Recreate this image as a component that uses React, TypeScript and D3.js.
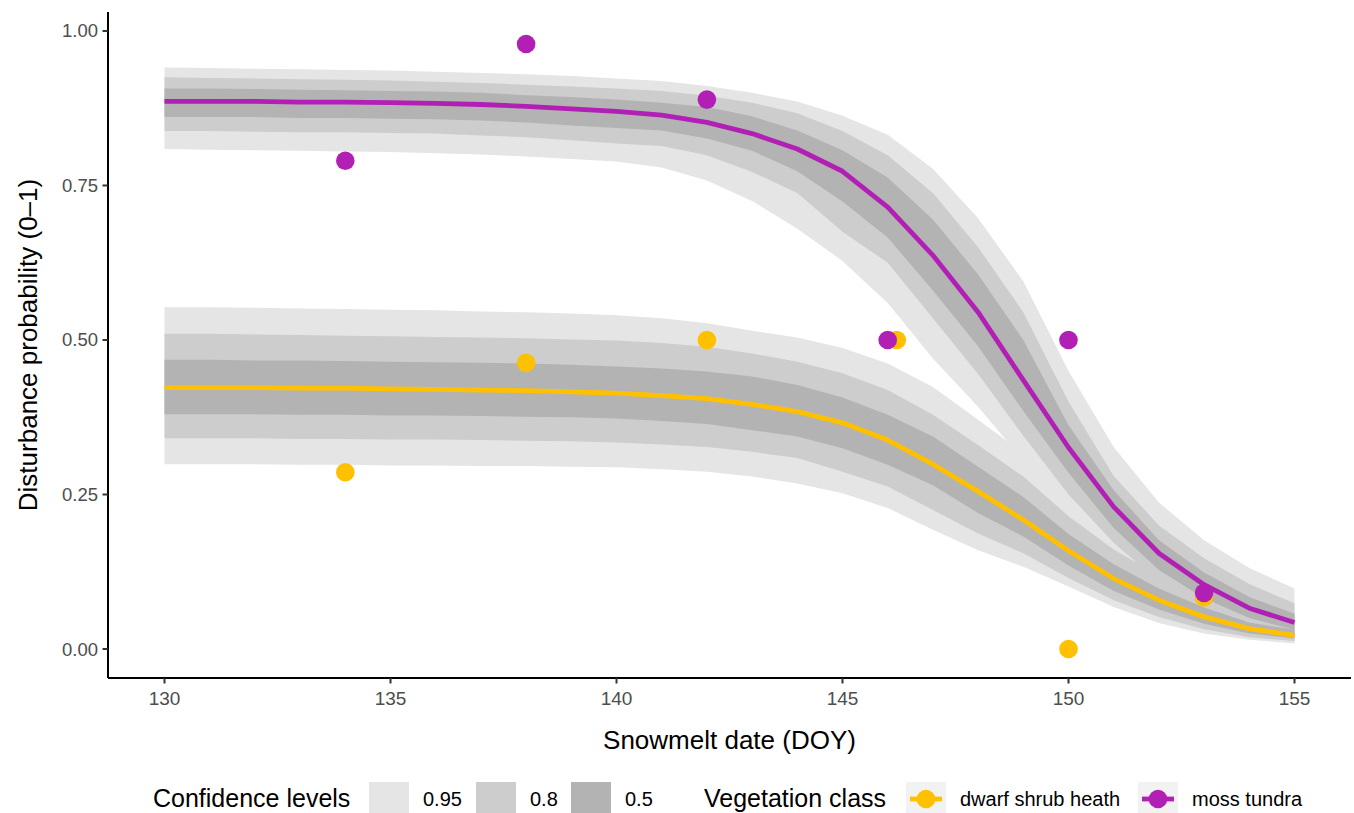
import React from "react";
import * as d3 from "d3";

// ---- data ----
const doy = [130,131,132,133,134,135,136,137,138,139,140,141,142,143,144,145,146,147,148,149,150,151,152,153,154,155];

const mossMean = [.886,.886,.886,.885,.885,.884,.883,.881,.878,.874,.870,.864,.852,.834,.809,.773,.715,.637,.545,.435,.326,.230,.155,.104,.066,.043];
const mossU95 = [.941,.940,.939,.938,.937,.936,.934,.932,.930,.927,.923,.919,.911,.900,.886,.863,.832,.777,.697,.595,.450,.327,.237,.176,.131,.098];
const mossU80 = [.925,.924,.923,.922,.921,.920,.918,.916,.913,.910,.907,.903,.895,.884,.867,.838,.799,.738,.650,.545,.400,.280,.200,.147,.105,.074];
const mossU50 = [.907,.907,.906,.905,.904,.903,.902,.900,.896,.893,.889,.884,.877,.862,.839,.807,.763,.695,.606,.500,.362,.257,.176,.124,.084,.057];
const mossL50 = [.861,.861,.861,.859,.859,.858,.857,.855,.852,.847,.843,.839,.826,.806,.773,.724,.666,.580,.490,.385,.285,.196,.128,.082,.050,.031];
const mossL80 = [.838,.838,.837,.836,.836,.835,.834,.831,.828,.823,.818,.814,.799,.772,.738,.675,.625,.535,.445,.345,.250,.172,.109,.068,.040,.024];
const mossL95 = [.809,.808,.807,.806,.805,.804,.802,.800,.797,.793,.789,.779,.758,.725,.680,.628,.560,.470,.392,.305,.222,.147,.091,.0545,.031,.018];

const shrubMean = [.423,.423,.423,.422,.422,.421,.420,.419,.418,.416,.414,.410,.405,.396,.384,.366,.338,.299,.255,.209,.159,.114,.079,.052,.033,.022];
const shrubU95 = [.553,.553,.552,.551,.550,.549,.548,.546,.545,.543,.540,.535,.527,.515,.504,.487,.462,.424,.371,.317,.247,.190,.144,.104,.070,.055];
const shrubU80 = [.510,.510,.509,.508,.507,.506,.505,.504,.503,.501,.499,.495,.489,.478,.465,.446,.419,.379,.330,.279,.215,.161,.119,.083,.055,.041];
const shrubU50 = [.468,.468,.467,.467,.466,.465,.464,.463,.462,.460,.457,.454,.449,.441,.427,.407,.379,.344,.295,.246,.186,.137,.098,.067,.043,.031];
const shrubL50 = [.380,.380,.380,.379,.379,.378,.378,.377,.376,.375,.373,.369,.364,.354,.344,.325,.298,.265,.220,.182,.135,.094,.064,.041,.025,.017];
const shrubL80 = [.341,.341,.341,.340,.340,.339,.339,.338,.337,.336,.334,.331,.327,.319,.309,.287,.263,.225,.187,.155,.115,.079,.052,.032,.019,.013];
const shrubL95 = [.299,.299,.299,.298,.298,.297,.297,.296,.296,.295,.294,.291,.287,.279,.268,.252,.228,.193,.160,.133,.101,.068,.042,.025,.015,.009];

const mossPtsX = [134, 138, 142, 146, 150, 153];
const mossPtsY = [0.79, 0.979, 0.889, 0.5, 0.5, 0.0909];
const shrubPtsX = [134, 138, 142, 146.2, 150, 153];
const shrubPtsY = [0.286, 0.463, 0.5, 0.5, 0, 0.0833];

const xTicks = [130, 135, 140, 145, 150, 155];
const yTicks = [0, 0.25, 0.5, 0.75, 1.0];
const levelLabels = ["0.95", "0.8", "0.5"];
const vegLabels = ["dwarf shrub heath", "moss tundra"];

const FONT = "'Liberation Sans', Arial, Helvetica, sans-serif";
const MOSS = "#B11FB5";
const SHRUB = "#FFC000";
const BAND = ["#E5E5E5", "#CDCDCD", "#B3B3B3"];

export default function App() {
  const W = 1354, H = 813;
  const left = 108, right = 1351, top = 12, bottom = 678;
  const x = d3.scaleLinear().domain([128.75, 156.25]).range([left, right]);
  const y = d3.scaleLinear().domain([-0.0469, 1.0307]).range([bottom, top]);

  const area = (lo: number[], hi: number[]) =>
    d3.area<number>().x((_, i) => x(doy[i])).y0((_, i) => y(lo[i])).y1((_, i) => y(hi[i]))(doy) || "";
  const line = (m: number[]) =>
    d3.line<number>().x((_, i) => x(doy[i])).y((_, i) => y(m[i]))(doy) || "";

  const bands = [
    [[shrubL95, shrubU95], [mossL95, mossU95]],
    [[shrubL80, shrubU80], [mossL80, mossU80]],
    [[shrubL50, shrubU50], [mossL50, mossU50]],
  ];

  const legY = 799;
  const keyH = 34, keyW = 40;
  const confKeys = [369, 476, 571];
  const vegKeys = [906, 1138];
  const vegColors = [SHRUB, MOSS];

  return (
    <svg width={W} height={H} style={{ position: "fixed", left: 0, top: 0, background: "#fff" }} fontFamily={FONT}>
      <rect x={0} y={0} width={W} height={H} fill="#fff" />
      {bands.map((lvl, li) =>
        lvl.map((b, gi) => <path key={`b${li}-${gi}`} d={area(b[0], b[1])} fill={BAND[li]} />)
      )}
      <path d={line(shrubMean)} fill="none" stroke={SHRUB} strokeWidth={4.8} strokeLinejoin="round" />
      <path d={line(mossMean)} fill="none" stroke={MOSS} strokeWidth={4.8} strokeLinejoin="round" />
      {shrubPtsX.map((px, i) => (
        <circle key={`sp${i}`} cx={x(px)} cy={y(shrubPtsY[i])} r={9.3} fill={SHRUB} />
      ))}
      {mossPtsX.map((px, i) => (
        <circle key={`mp${i}`} cx={x(px)} cy={y(mossPtsY[i])} r={9.3} fill={MOSS} />
      ))}

      {/* axes */}
      <line x1={left} x2={right} y1={bottom} y2={bottom} stroke="#000" strokeWidth={2} />
      <line x1={left} x2={left} y1={top} y2={bottom} stroke="#000" strokeWidth={2} />
      {xTicks.map((t) => (
        <g key={`xt${t}`}>
          <line x1={x(t)} x2={x(t)} y1={bottom} y2={bottom + 5.5} stroke="#333" strokeWidth={2} />
          <text x={x(t)} y={bottom + 27} textAnchor="middle" fontSize={19} fill="#4D4D4D">{t}</text>
        </g>
      ))}
      {yTicks.map((t) => (
        <g key={`yt${t}`}>
          <line x1={left - 5.5} x2={left} y1={y(t)} y2={y(t)} stroke="#333" strokeWidth={2} />
          <text x={left - 10} y={y(t) + 6.5} textAnchor="end" fontSize={18.5} fill="#4D4D4D">{t.toFixed(2)}</text>
        </g>
      ))}
      <text x={(left + right) / 2} y={749} textAnchor="middle" fontSize={26} fill="#000">Snowmelt date (DOY)</text>
      <text transform={`translate(37,${(top + bottom) / 2}) rotate(-90)`} textAnchor="middle" fontSize={26} fill="#000">
        Disturbance probability (0–1)
      </text>

      {/* legend */}
      <text x={153} y={legY + 8} fontSize={25} fill="#000">Confidence levels</text>
      {confKeys.map((kx, i) => (
        <g key={`ck${i}`}>
          <rect x={kx} y={legY - keyH / 2} width={keyW} height={keyH} fill={BAND[i]} />
          <text x={kx + keyW + 14} y={legY + 7} fontSize={20} fill="#000">{levelLabels[i]}</text>
        </g>
      ))}
      <text x={704} y={legY + 8} fontSize={25} fill="#000">Vegetation class</text>
      {vegKeys.map((kx, i) => (
        <g key={`vk${i}`}>
          <rect x={kx} y={legY - keyH / 2} width={keyW} height={keyH} fill="#F2F2F2" />
          <line x1={kx + 4} x2={kx + keyW - 4} y1={legY} y2={legY} stroke={vegColors[i]} strokeWidth={4.8} />
          <circle cx={kx + keyW / 2} cy={legY} r={9.3} fill={vegColors[i]} />
          <text x={kx + keyW + 14} y={legY + 7} fontSize={20} fill="#000">{vegLabels[i]}</text>
        </g>
      ))}
    </svg>
  );
}
